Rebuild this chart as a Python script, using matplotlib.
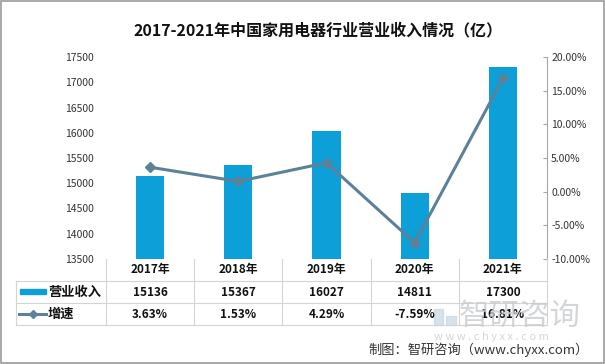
import matplotlib
matplotlib.use("Agg")
import matplotlib.pyplot as plt
from matplotlib.lines import Line2D
from matplotlib.patches import Rectangle
from matplotlib.ticker import FuncFormatter

plt.rcParams["font.family"] = ["Noto Sans CJK SC", "DejaVu Sans"]

TITLE = "2017-2021年中国家用电器行业营业收入情况（亿）"
years = ["2017年", "2018年", "2019年", "2020年", "2021年"]
revenue = [15136, 15367, 16027, 14811, 17300]
growth = [3.63, 1.53, 4.29, -7.59, 16.81]
series_names = ["营业收入", "增速"]
source = "制图：智研咨询（www.chyxx.com）"

BAR_COLOR = "#0d9fd8"
LINE_COLOR = "#5d8198"
GRID_COLOR = "#d4d4d4"

W, H = 605, 364
AX_L, AX_R, AX_T, AX_B = 106, 547, 57, 259


def fx(px):
    return px / W


def fy(py):
    return 1 - py / H


fig = plt.figure(figsize=(W / 100, H / 100), dpi=100)
ax = fig.add_axes([fx(AX_L), fy(AX_B), (AX_R - AX_L) / W, (AX_B - AX_T) / H])
x = list(range(len(years)))

ax.bar(x, revenue, width=0.32, color=BAR_COLOR, zorder=2)
ax.set_xlim(-0.5, len(years) - 0.5)
ax.set_ylim(13500, 17500)
ax.set_yticks(range(13500, 17501, 500))
ax.set_xticks([])
for s in ax.spines.values():
    s.set_visible(False)
ax.tick_params(axis="y", length=0, pad=9, labelsize=7.5, labelcolor="#333333")

ax2 = ax.twinx()
ax2.plot(x, [g / 100 for g in growth], color=LINE_COLOR, linewidth=2.2,
         marker="D", markersize=5, zorder=3)
ax2.set_ylim(-0.10, 0.20)
ax2.set_yticks([-0.10, -0.05, 0.0, 0.05, 0.10, 0.15, 0.20])
ax2.yaxis.set_major_formatter(FuncFormatter(lambda v, p: f"{v * 100:.2f}%"))
for k in ["top", "left", "bottom"]:
    ax2.spines[k].set_visible(False)
ax2.spines["right"].set_color("#a6a6a6")
ax2.tick_params(axis="y", direction="in", length=3, color="#a6a6a6", pad=3,
                labelsize=7.5, labelcolor="#333333")

# title
fig.text(fx(318), fy(30), TITLE, ha="center", va="center", fontsize=11.5,
         fontweight="bold", color="#111111")

# data table under the axes
col_w = (AX_R - AX_L) / len(years)
rows_y = [AX_B, 281, 303, 325]
for i in range(len(years) + 1):
    xp = AX_L + i * col_w
    fig.add_artist(Line2D([fx(xp), fx(xp)], [fy(rows_y[0]), fy(rows_y[-1])],
                          color=GRID_COLOR, linewidth=0.8))
fig.add_artist(Line2D([fx(16), fx(16)], [fy(rows_y[1]), fy(rows_y[-1])],
                      color=GRID_COLOR, linewidth=0.8))
for yp in rows_y[1:]:
    fig.add_artist(Line2D([fx(16), fx(AX_R)], [fy(yp), fy(yp)],
                          color=GRID_COLOR, linewidth=0.8))

for i, (yr, rv, g) in enumerate(zip(years, revenue, growth)):
    cx = AX_L + (i + 0.5) * col_w
    fig.text(fx(cx), fy(270), yr, ha="center", va="center", fontsize=8.5,
             fontweight="bold", color="#111111")
    fig.text(fx(cx), fy(292), f"{rv}", ha="center", va="center", fontsize=8.5,
             fontweight="bold", color="#111111")
    fig.text(fx(cx), fy(314), f"{g:.2f}%", ha="center", va="center",
             fontsize=8.5, fontweight="bold", color="#111111")

# legend keys in the table
fig.add_artist(Rectangle((fx(20), fy(294)), 26 / W, 5.5 / H,
                         color=BAR_COLOR, transform=fig.transFigure))
fig.text(fx(48), fy(292), series_names[0], ha="left", va="center",
         fontsize=9.5, fontweight="bold", color="#111111")
fig.add_artist(Line2D([fx(19), fx(46)], [fy(314), fy(314)], color=LINE_COLOR,
                      linewidth=2.2))
fig.add_artist(Line2D([fx(32.5)], [fy(314)], color=LINE_COLOR, marker="D",
                      markersize=4.5))
fig.text(fx(48), fy(314), series_names[1], ha="left", va="center",
         fontsize=9.5, fontweight="bold", color="#111111")

# watermark
fig.add_artist(Rectangle((fx(434), fy(325)), 9 / W, 16 / H, color="#c7d6e3",
                         alpha=0.7, transform=fig.transFigure))
fig.add_artist(Rectangle((fx(446), fy(325)), 10 / W, 9 / H, color="#c7d6e3",
                         alpha=0.7, transform=fig.transFigure))
fig.text(fx(459), fy(316), "智研咨询", ha="left", va="center", fontsize=22,
         color="#c9cccf", alpha=0.8)
fig.text(fx(434), fy(337), "w w w . c h y x x . c o m", ha="left",
         va="center", fontsize=8, color="#d4d6d8")
fig.text(fx(589), fy(350), source, ha="right", va="center", fontsize=9.5,
         color="#333333")

# outer frame
fig.add_artist(Rectangle((0.002, 0.003), 0.996, 0.994, fill=False,
                         edgecolor="#9a9a9a", linewidth=1.2,
                         transform=fig.transFigure))

fig.savefig("out.png", dpi=100)
